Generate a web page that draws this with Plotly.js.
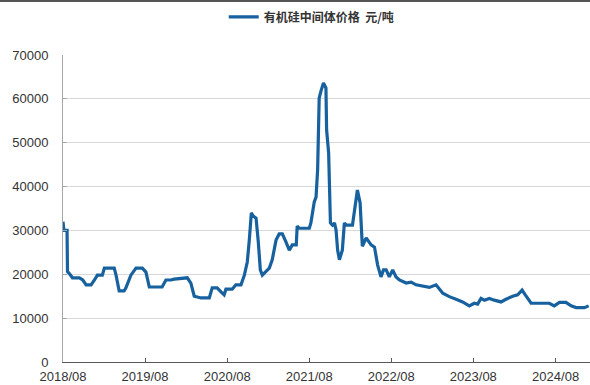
<!DOCTYPE html>
<html>
<head>
<meta charset="utf-8">
<script src="https://cdn.plot.ly/plotly-3.0.1.min.js"></script>
<style>
  html, body { margin: 0; padding: 0; background: #fff; }
  #topline { position: absolute; left: 0; top: 0; width: 590px; height: 2px; background: #555; z-index: 10; }
  #chart { width: 590px; height: 385px; }
</style>
</head>
<body>
<div id="topline"></div>
<div id="chart"></div>
<script>
const seriesName = '有机硅中间体价格&nbsp;&nbsp;元/吨';

const dates = [
  '2018-08-01','2018-08-05','2018-08-19','2018-08-21','2018-08-30','2018-09-12','2018-10-13','2018-10-28',
  '2018-11-12','2018-12-04','2018-12-19','2019-01-01','2019-01-23','2019-02-01','2019-03-17','2019-03-25',
  '2019-04-08','2019-04-30','2019-05-08','2019-05-30','2019-06-22','2019-07-20','2019-08-05','2019-08-20',
  '2019-09-11','2019-10-16','2019-11-02','2019-11-24','2019-12-09','2020-02-05','2020-02-21','2020-03-07',
  '2020-04-06','2020-05-13','2020-05-26','2020-06-17','2020-07-04','2020-07-18','2020-07-26','2020-08-23',
  '2020-09-08','2020-10-01','2020-10-16','2020-10-29','2020-11-07','2020-11-16','2020-11-24','2020-12-07',
  '2020-12-17','2020-12-26','2021-01-04','2021-01-13','2021-02-04','2021-02-17','2021-03-06','2021-03-20',
  '2021-04-03','2021-04-19','2021-05-04','2021-05-17','2021-06-04','2021-06-08','2021-06-17','2021-08-01',
  '2021-08-08','2021-08-23','2021-08-31','2021-09-07','2021-09-14','2021-09-23','2021-10-03','2021-10-14',
  '2021-10-17','2021-10-26','2021-11-03','2021-11-12','2021-11-21','2021-11-28','2021-12-05','2021-12-13',
  '2021-12-20','2021-12-26','2022-01-04','2022-01-13','2022-02-09','2022-02-18','2022-03-03','2022-03-15',
  '2022-03-25','2022-04-11','2022-05-03','2022-05-18','2022-06-01','2022-06-16','2022-06-27','2022-07-09',
  '2022-07-23','2022-08-07','2022-08-22','2022-09-06','2022-10-06','2022-10-28','2022-11-19','2023-01-17',
  '2023-02-16','2023-03-18','2023-04-16','2023-05-16','2023-06-14','2023-07-14','2023-08-05','2023-08-20',
  '2023-09-04','2023-09-19','2023-10-11','2023-11-02','2023-12-02','2023-12-24','2024-01-23','2024-02-14',
  '2024-03-05','2024-03-19','2024-04-14','2024-05-21','2024-07-04','2024-07-26','2024-08-18','2024-09-16',
  '2024-10-09','2024-10-31','2024-12-07','2024-12-26'
];

const prices = [
  32000,30000,30000,20600,20100,19200,19200,18700,
  17600,17600,18700,19800,19800,21400,21400,19800,
  16200,16200,16900,19800,21400,21400,20500,17100,
  17100,17100,18700,18700,18900,19200,18000,15000,
  14600,14600,16900,16900,16000,15300,16600,16600,
  17600,17600,19800,22800,27800,34000,33300,32800,
  27400,21000,19800,20300,21400,23300,27800,29200,
  29200,27400,25500,26700,26700,31000,30500,30500,
  31700,36500,37600,43800,60200,62000,63600,62500,
  52900,47700,31700,31200,31700,30100,25500,23300,
  24400,25500,31700,31200,31200,34700,39200,36300,
  26400,28300,26700,26200,22100,19400,21000,21000,
  19400,21000,19400,18700,18000,18200,17600,17000,
  17600,15700,14900,14300,13700,12800,13400,13200,
  14500,14100,14500,14100,13700,14300,15000,15300,
  16400,15300,13400,13400,13400,12800,13600,13600,
  12800,12400,12400,12800
];

const xTickVals = ['2018-08-01','2019-08-01','2020-08-01','2021-08-01','2022-08-01','2023-08-01','2024-08-01'];
const xTickText = ['2018/08','2019/08','2020/08','2021/08','2022/08','2023/08','2024/08'];
const yTickVals = [0,10000,20000,30000,40000,50000,60000,70000];
const yTickText = ['0','10000','20000','30000','40000','50000','60000','70000'];

const trace = {
  x: dates,
  y: prices,
  type: 'scatter',
  mode: 'lines',
  name: seriesName,
  line: { color: '#17619f', width: 3.2 }
};

const layout = {
  width: 590,
  height: 385,
  margin: { l: 63, r: 0, t: 55, b: 23 },
  paper_bgcolor: '#ffffff',
  plot_bgcolor: '#ffffff',
  font: { family: 'Liberation Sans, Arial, sans-serif', size: 13, color: '#333333' },
  showlegend: true,
  legend: {
    orientation: 'h',
    x: 0.305, xanchor: 'left',
    y: 1.124, yanchor: 'middle',
    font: { family: 'Noto Sans CJK SC, sans-serif', size: 12, color: '#333333', weight: 'bold' },
    bgcolor: 'rgba(0,0,0,0)'
  },
  xaxis: {
    type: 'date',
    range: ['2018-08-01', '2025-01-01'],
    tickvals: xTickVals,
    ticktext: xTickText,
    ticks: 'inside',
    ticklen: 4,
    tickcolor: '#595959',
    showline: true,
    linecolor: '#595959',
    linewidth: 1,
    showgrid: false,
    zeroline: false,
    ticklabelstandoff: 2,
    tickfont: { size: 13, color: '#333333' }
  },
  yaxis: {
    range: [0, 70000],
    tickvals: yTickVals,
    ticktext: yTickText,
    ticks: 'inside',
    ticklen: 4,
    tickcolor: '#a6a6a6',
    showline: true,
    linecolor: '#a6a6a6',
    linewidth: 1,
    showgrid: true,
    gridcolor: '#d9d9d9',
    gridwidth: 1,
    zeroline: false,
    ticklabelstandoff: 11,
    tickfont: { size: 13, color: '#333333' }
  }
};

Plotly.newPlot('chart', [trace], layout, { staticPlot: true, displayModeBar: false });
</script>
</body>
</html>
